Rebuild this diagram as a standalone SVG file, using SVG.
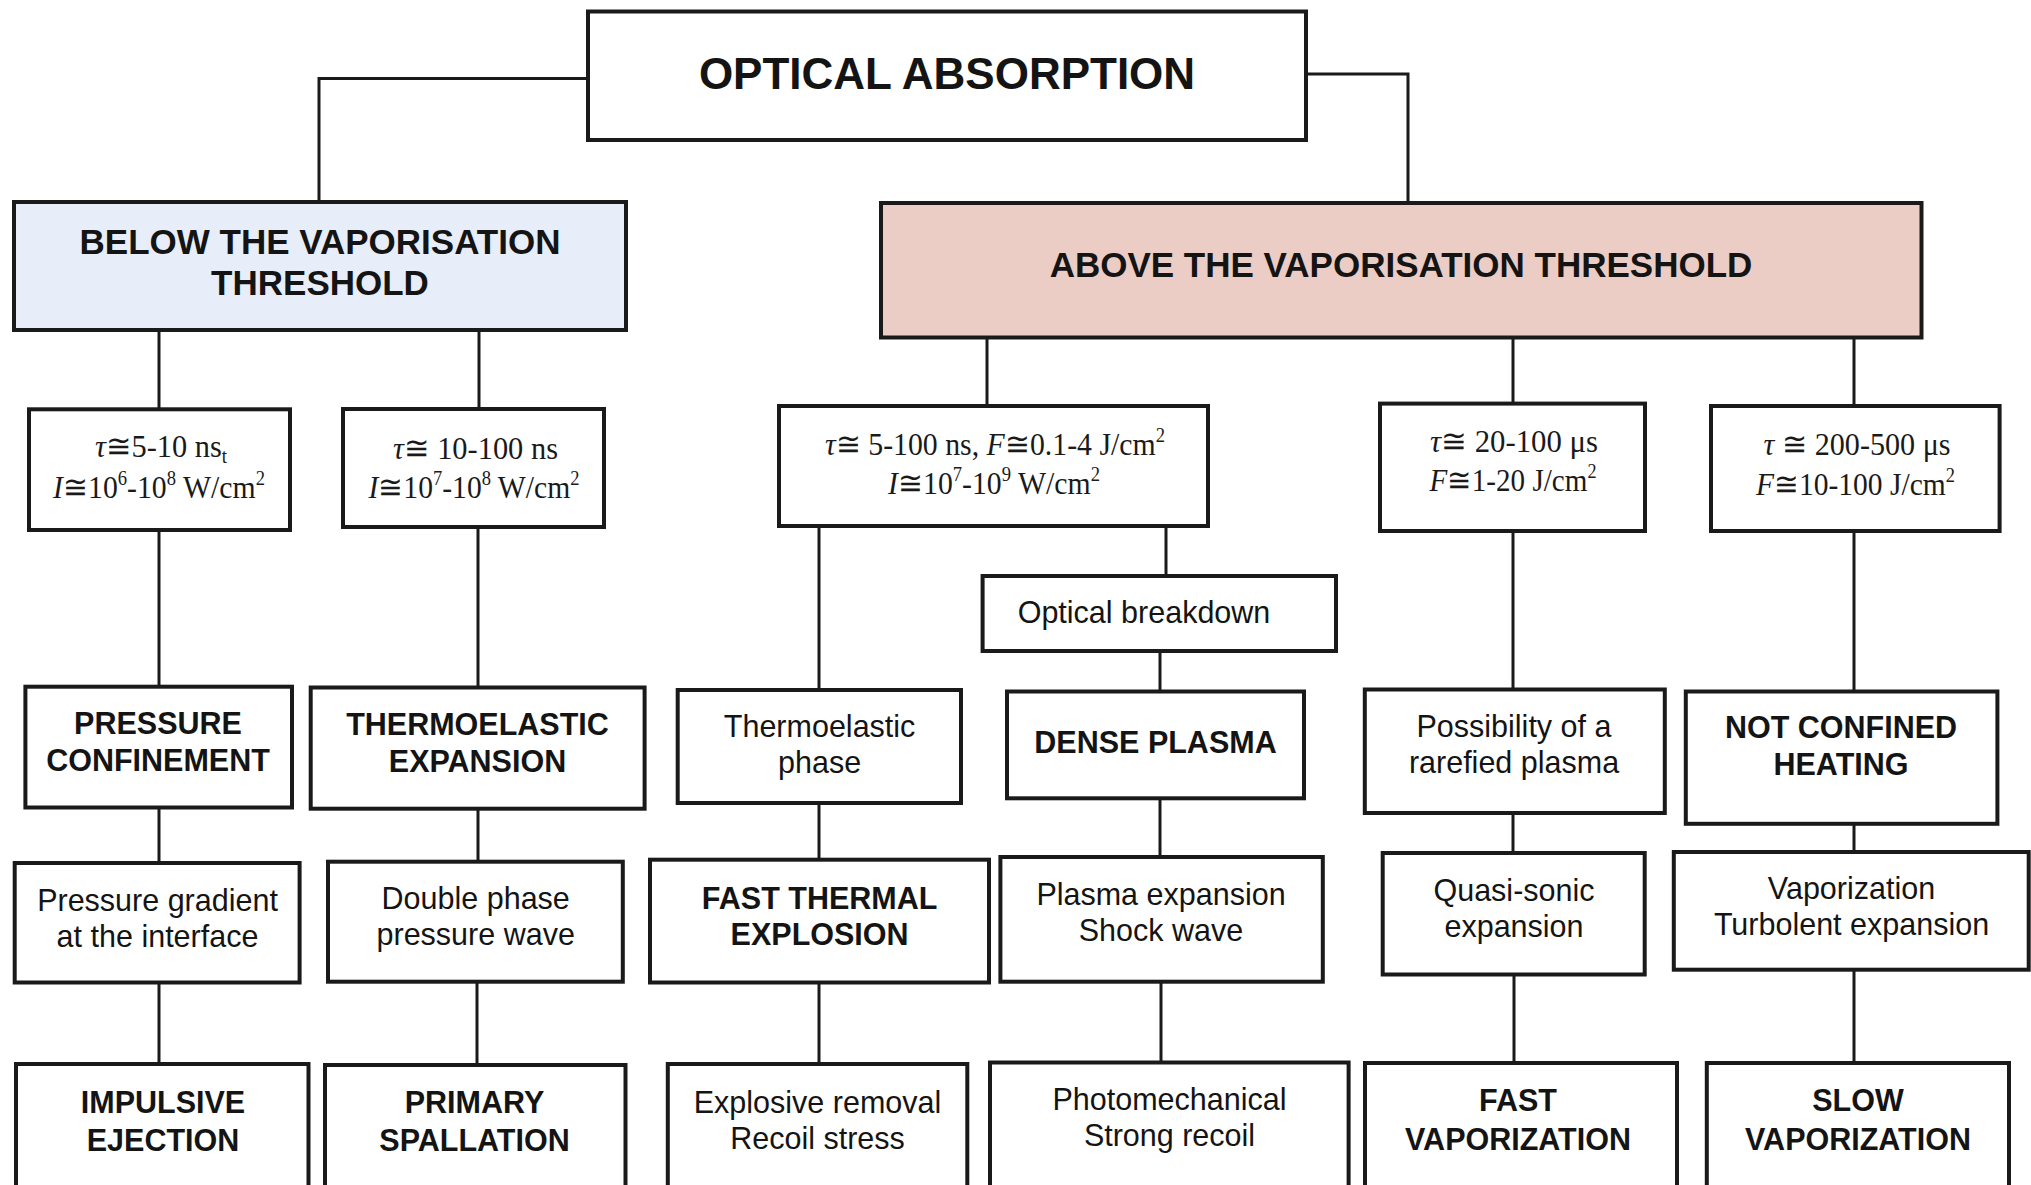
<svg xmlns="http://www.w3.org/2000/svg" width="2031" height="1185" viewBox="0 0 2031 1185">
<style>
.box{fill:#ffffff;stroke:#1a1a1a;stroke-width:4}
.blue{fill:#e8eef9}
.pink{fill:#ebcdc5}
.b{font-family:"Liberation Sans",Arial,sans-serif;font-weight:bold;fill:#141414;text-anchor:middle}
.r{font-family:"Liberation Sans",Arial,sans-serif;fill:#141414;text-anchor:middle;font-size:30.5px}
.b30{font-size:30.5px}
.m{font-family:"Liberation Serif","DejaVu Serif",serif;font-size:32px;fill:#1a1a1a;text-anchor:middle}
.i{font-style:italic}
.sup{font-size:20px}
.conn{fill:none;stroke:#1a1a1a;stroke-width:3}
</style>
<rect width="2031" height="1185" fill="#ffffff"/>

<g id="connectors">
<path class="conn" d="M588,78.6 H319 V202"/>
<path class="conn" d="M1306,74 H1408 V203"/>
<path class="conn" d="M159,330 V409"/>
<path class="conn" d="M479,330 V409"/>
<path class="conn" d="M987,337.5 V406"/>
<path class="conn" d="M1513,337.5 V404"/>
<path class="conn" d="M1854,337.5 V406"/>
<path class="conn" d="M159,530 V687"/>
<path class="conn" d="M478,527 V687.5"/>
<path class="conn" d="M819,526 V690"/>
<path class="conn" d="M1166,526 V576"/>
<path class="conn" d="M1160,651 V691.5"/>
<path class="conn" d="M1513,531 V689.5"/>
<path class="conn" d="M1854,531 V691.5"/>
<path class="conn" d="M159,807.5 V863"/>
<path class="conn" d="M478,808.7 V861.7"/>
<path class="conn" d="M819,803 V859.7"/>
<path class="conn" d="M1160,798 V857"/>
<path class="conn" d="M1513,813 V853"/>
<path class="conn" d="M1854,823.8 V852"/>
<path class="conn" d="M159,982.5 V1064"/>
<path class="conn" d="M477,981.7 V1065"/>
<path class="conn" d="M819,982.5 V1064"/>
<path class="conn" d="M1161,981.7 V1062"/>
<path class="conn" d="M1514,974.5 V1063"/>
<path class="conn" d="M1854,969.7 V1063"/>
</g>

<g id="optical-absorption">
<rect class="box" x="588" y="11.5" width="718" height="128.5"/>
<text class="b" x="947" y="89" font-size="44">OPTICAL ABSORPTION</text>
</g>

<g id="below-threshold">
<rect class="box blue" x="14" y="202" width="612" height="128"/>
<text class="b" x="320" y="253.6" font-size="35">BELOW THE VAPORISATION</text>
<text class="b" x="320" y="294.6" font-size="35">THRESHOLD</text>
</g>

<g id="above-threshold">
<rect class="box pink" x="881" y="203" width="1040.5" height="134.5"/>
<text class="b" x="1401" y="277" font-size="35">ABOVE THE VAPORISATION THRESHOLD</text>
</g>

<g id="param-1">
<rect class="box" x="29" y="409.3" width="261" height="120.7"/>
<text class="m" x="161" y="457" textLength="132" lengthAdjust="spacingAndGlyphs"><tspan class="i">τ</tspan>≅5-10 ns<tspan class="sup" dy="6">t</tspan></text>
<text class="m" x="159" y="497.5" textLength="212" lengthAdjust="spacingAndGlyphs"><tspan class="i">I</tspan>≅10<tspan class="sup" dy="-13">6</tspan><tspan dy="13">-10</tspan><tspan class="sup" dy="-13">8</tspan><tspan dy="13"> W/cm</tspan><tspan class="sup" dy="-13">2</tspan></text>
</g>

<g id="param-2">
<rect class="box" x="343" y="409" width="261" height="118"/>
<text class="m" x="475.5" y="459" textLength="165" lengthAdjust="spacingAndGlyphs"><tspan class="i">τ</tspan>≅ 10-100 ns</text>
<text class="m" x="474" y="498" textLength="211" lengthAdjust="spacingAndGlyphs"><tspan class="i">I</tspan>≅10<tspan class="sup" dy="-13">7</tspan><tspan dy="13">-10</tspan><tspan class="sup" dy="-13">8</tspan><tspan dy="13"> W/cm</tspan><tspan class="sup" dy="-13">2</tspan></text>
</g>

<g id="param-3">
<rect class="box" x="779" y="406" width="429" height="120"/>
<text class="m" x="995" y="455" textLength="340" lengthAdjust="spacingAndGlyphs"><tspan class="i">τ</tspan>≅ 5-100 ns, <tspan class="i">F</tspan>≅0.1-4 J/cm<tspan class="sup" dy="-13">2</tspan></text>
<text class="m" x="994" y="494" textLength="212" lengthAdjust="spacingAndGlyphs"><tspan class="i">I</tspan>≅10<tspan class="sup" dy="-13">7</tspan><tspan dy="13">-10</tspan><tspan class="sup" dy="-13">9</tspan><tspan dy="13"> W/cm</tspan><tspan class="sup" dy="-13">2</tspan></text>
</g>

<g id="param-4">
<rect class="box" x="1380" y="403.6" width="265" height="127.4"/>
<text class="m" x="1514" y="452" textLength="168" lengthAdjust="spacingAndGlyphs"><tspan class="i">τ</tspan>≅ 20-100 μs</text>
<text class="m" x="1513" y="491" textLength="167" lengthAdjust="spacingAndGlyphs"><tspan class="i">F</tspan>≅1-20 J/cm<tspan class="sup" dy="-13">2</tspan></text>
</g>

<g id="param-5">
<rect class="box" x="1711" y="406" width="288.6" height="125"/>
<text class="m" x="1857" y="455" textLength="187" lengthAdjust="spacingAndGlyphs"><tspan class="i">τ</tspan> ≅ 200-500 μs</text>
<text class="m" x="1855.5" y="495" textLength="199" lengthAdjust="spacingAndGlyphs"><tspan class="i">F</tspan>≅10-100 J/cm<tspan class="sup" dy="-13">2</tspan></text>
</g>

<g id="optical-breakdown">
<rect class="box" x="982.6" y="576" width="353.4" height="75"/>
<text class="r" x="1144" y="623">Optical breakdown</text>
</g>

<g id="pressure-confinement">
<rect class="box" x="25.4" y="686.7" width="266.6" height="120.8"/>
<text class="b b30" x="158" y="734">PRESSURE</text>
<text class="b b30" x="158" y="771">CONFINEMENT</text>
</g>

<g id="thermoelastic-expansion">
<rect class="box" x="310.7" y="687.5" width="333.9" height="121.2"/>
<text class="b b30" x="477.5" y="735">THERMOELASTIC</text>
<text class="b b30" x="477.5" y="772">EXPANSION</text>
</g>

<g id="thermoelastic-phase">
<rect class="box" x="677.7" y="690" width="283.3" height="113"/>
<text class="r" x="819.6" y="737.4">Thermoelastic</text>
<text class="r" x="819.6" y="773.2">phase</text>
</g>

<g id="dense-plasma">
<rect class="box" x="1007" y="691.5" width="297" height="106.8"/>
<text class="b b30" x="1155.5" y="753">DENSE PLASMA</text>
</g>

<g id="rarefied-plasma">
<rect class="box" x="1364.8" y="689.5" width="300" height="123.5"/>
<text class="r" x="1514" y="737.4">Possibility of a</text>
<text class="r" x="1514" y="773.2">rarefied plasma</text>
</g>

<g id="not-confined-heating">
<rect class="box" x="1685.8" y="691.5" width="311.6" height="132.3"/>
<text class="b b30" x="1841" y="738">NOT CONFINED</text>
<text class="b b30" x="1841" y="775">HEATING</text>
</g>

<g id="pressure-gradient">
<rect class="box" x="14.7" y="863" width="284.9" height="119.5"/>
<text class="r" x="157.5" y="910.7">Pressure gradient</text>
<text class="r" x="157.5" y="946.6">at the interface</text>
</g>

<g id="double-phase">
<rect class="box" x="328" y="861.7" width="294.8" height="120"/>
<text class="r" x="475.7" y="908.7">Double phase</text>
<text class="r" x="475.7" y="944.6">pressure wave</text>
</g>

<g id="fast-thermal-explosion">
<rect class="box" x="650" y="859.7" width="339" height="122.8"/>
<text class="b b30" x="819.6" y="908.7">FAST THERMAL</text>
<text class="b b30" x="819.6" y="944.6">EXPLOSION</text>
</g>

<g id="plasma-expansion">
<rect class="box" x="1000.4" y="857" width="322.4" height="124.7"/>
<text class="r" x="1161" y="904.8">Plasma expansion</text>
<text class="r" x="1161" y="940.6">Shock wave</text>
</g>

<g id="quasi-sonic">
<rect class="box" x="1382.7" y="853" width="262" height="121.5"/>
<text class="r" x="1514" y="900.8">Quasi-sonic</text>
<text class="r" x="1514" y="936.6">expansion</text>
</g>

<g id="vaporization">
<rect class="box" x="1673.8" y="852" width="354.9" height="117.7"/>
<text class="r" x="1851.5" y="898.8">Vaporization</text>
<text class="r" x="1851.5" y="934.6">Turbolent expansion</text>
</g>

<g id="impulsive-ejection">
<rect class="box" x="16" y="1064" width="292.5" height="140"/>
<text class="b b30" x="163" y="1113">IMPULSIVE</text>
<text class="b b30" x="163" y="1151">EJECTION</text>
</g>

<g id="primary-spallation">
<rect class="box" x="325" y="1065" width="300.5" height="140"/>
<text class="b b30" x="474.5" y="1113">PRIMARY</text>
<text class="b b30" x="474.5" y="1151">SPALLATION</text>
</g>

<g id="explosive-removal">
<rect class="box" x="667.8" y="1064" width="299.5" height="140"/>
<text class="r" x="817.5" y="1112.5">Explosive removal</text>
<text class="r" x="817.5" y="1149">Recoil stress</text>
</g>

<g id="photomechanical">
<rect class="box" x="990" y="1062.5" width="358.6" height="140"/>
<text class="r" x="1169.5" y="1110">Photomechanical</text>
<text class="r" x="1169.5" y="1146">Strong recoil</text>
</g>

<g id="fast-vaporization">
<rect class="box" x="1365" y="1063" width="312" height="140"/>
<text class="b b30" x="1518" y="1111">FAST</text>
<text class="b b30" x="1518" y="1150">VAPORIZATION</text>
</g>

<g id="slow-vaporization">
<rect class="box" x="1706.8" y="1063" width="302.2" height="140"/>
<text class="b b30" x="1858" y="1111">SLOW</text>
<text class="b b30" x="1858" y="1150">VAPORIZATION</text>
</g>
</svg>
